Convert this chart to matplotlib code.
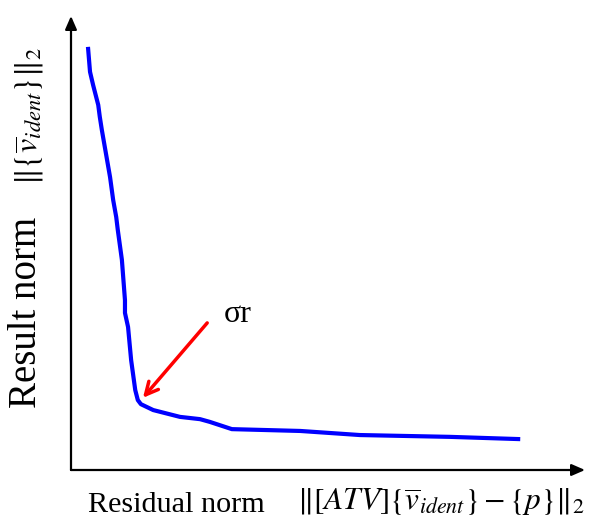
import numpy as np
import matplotlib.pyplot as plt

plt.rcParams['font.family'] = ['Liberation Serif', 'DejaVu Serif']
plt.rcParams['mathtext.fontset'] = 'stix'

# L-curve (arbitrary units)
residual = [3.3, 3.7, 4.3, 5.3, 5.6, 6.0, 7.6, 8.2, 8.8, 9.1, 9.9, 10.5, 10.5,
            11.1, 11.7, 12.5, 13.0, 13.6, 16.0, 21.2, 25.1, 27.0, 31.3, 44.6,
            56.2, 73.7, 87.4]
result = [93.2, 87.7, 84.8, 80.4, 77.8, 74.9, 64.5, 59.5, 55.7, 52.9, 46.3, 37.4,
          34.6, 31.5, 24.2, 17.6, 15.4, 14.5, 13.2, 11.7, 11.2, 10.6, 9.0, 8.6,
          7.7, 7.3, 6.8]

# corner point and where the label sits
corner = (14.0, 15.9)
label_pos = (26.5, 32.4)

W, H = 590, 523
fig = plt.figure(figsize=(W / 100, H / 100), dpi=100)
ax = fig.add_axes([71 / W, (H - 470) / H, (585 - 71) / W, (470 - 16) / H])
ax.set_xlim(0, 100)
ax.set_ylim(0, 100)
ax.axis('off')

# axes drawn as arrows
ax.annotate('', xy=(100, 0), xytext=(0, 0),
            arrowprops=dict(arrowstyle='-|>,head_length=0.8,head_width=0.35',
                            color='black', lw=1.6, shrinkA=0, shrinkB=0))
ax.annotate('', xy=(0, 100), xytext=(0, 0),
            arrowprops=dict(arrowstyle='-|>,head_length=0.8,head_width=0.35',
                            color='black', lw=1.6, shrinkA=0, shrinkB=0))

ax.plot(residual, result, color='#0000ff', lw=3.0, solid_capstyle='butt')

ax.annotate('', xy=corner, xytext=label_pos,
            arrowprops=dict(arrowstyle='->,head_length=0.9,head_width=0.45',
                            color='#ff0000', lw=2.5, shrinkA=0, shrinkB=0))
ax.text(label_pos[0] + 3.3, label_pos[1] + 1.8, 'σr', fontsize=23,
        va='center', ha='left')

# axis labels
fig.text(27 / W, 1 - 312 / H, 'Result norm', rotation=90, fontsize=28,
         ha='center', va='center')
fig.text(29 / W, 1 - 116 / H, r'$\Vert\{\overline{v}_{ident}\}\Vert_2$',
         rotation=90, fontsize=23, ha='center', va='center')
fig.text(176 / W, 1 - 505 / H, 'Residual norm', fontsize=21.7,
         ha='center', va='center')
fig.text(441 / W, 1 - 502 / H,
         r'$\Vert[ATV]\{\overline{v}_{ident}\}-\{p\}\Vert_2$',
         fontsize=22.5, ha='center', va='center')

fig.savefig('out.png', dpi=100)
